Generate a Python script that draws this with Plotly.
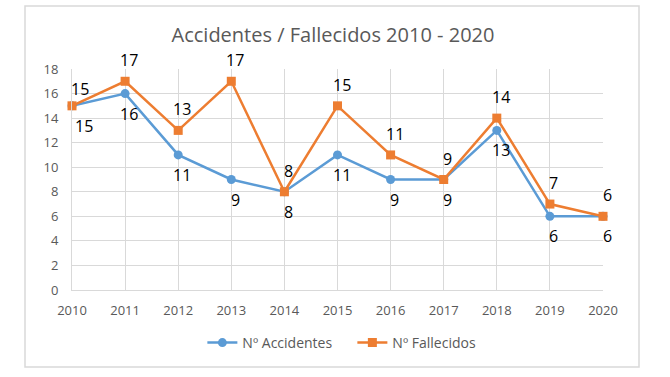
import plotly.graph_objects as go

years = [2010, 2011, 2012, 2013, 2014, 2015, 2016, 2017, 2018, 2019, 2020]
accidentes = [15, 16, 11, 9, 8, 11, 9, 9, 13, 6, 6]
fallecidos = [15, 17, 13, 17, 8, 15, 11, 9, 14, 7, 6]
y_ticks = [0, 2, 4, 6, 8, 10, 12, 14, 16, 18]

FONT = "Open Sans"
W, H = 670, 377
L, R, T, B = 72, 603, 69, 290  # plot area in page pixels

fig = go.Figure()
fig.add_trace(go.Scatter(
    x=years, y=accidentes, name="Nº Accidentes", mode="lines+markers",
    line=dict(color="#5B9BD5", width=2.5),
    marker=dict(symbol="circle", size=9, color="#5B9BD5"), cliponaxis=False))
fig.add_trace(go.Scatter(
    x=years, y=fallecidos, name="Nº Fallecidos", mode="lines+markers",
    line=dict(color="#ED7D31", width=2.5),
    marker=dict(symbol="square", size=9, color="#ED7D31"), cliponaxis=False))

annotations = []
for i, (yr, a, f) in enumerate(zip(years, accidentes, fallecidos)):
    first = i == 0
    annotations.append(dict(x=yr, y=f, text=str(f), showarrow=False,
                            xshift=8 if first else 4, yshift=17 if first else 21,
                            font=dict(family=FONT, size=16, color="#000000")))
    annotations.append(dict(x=yr, y=a, text=str(a), showarrow=False,
                            xshift=12 if first else 4, yshift=-20,
                            font=dict(family=FONT, size=16, color="#000000")))

fig.update_layout(
    width=W, height=H,
    margin=dict(l=L, r=W - R, t=T, b=H - B),
    paper_bgcolor="white", plot_bgcolor="white",
    title=dict(text="Accidentes / Fallecidos 2010 - 2020", x=0.497, xanchor="center",
               y=1 - 35/H, yanchor="middle",
               font=dict(family=FONT, size=20, color="#595959")),
    font=dict(family=FONT, color="#595959"),
    xaxis=dict(range=[2010, 2020], tickvals=years, ticktext=[str(y) for y in years],
               showgrid=True, gridcolor="#D9D9D9", gridwidth=1,
               showline=True, linecolor="#D9D9D9", linewidth=1,
               tickfont=dict(size=13, color="#595959"), zeroline=False,
               ticks="outside", ticklen=8, tickcolor="rgba(0,0,0,0)"),
    yaxis=dict(range=[0, 18], tickvals=y_ticks, showgrid=True, gridcolor="#D9D9D9",
               gridwidth=1, showline=True, linecolor="#D9D9D9", zeroline=False,
               tickfont=dict(size=13, color="#595959"),
               ticks="outside", ticklen=10, tickcolor="rgba(0,0,0,0)"),
    legend=dict(orientation="h", x=0.528, xanchor="center", y=-(343 - B) / (B - T),
                yanchor="middle", font=dict(size=14, color="#595959"),
                itemwidth=30, entrywidth=105, entrywidthmode="pixels"),
    annotations=annotations,
    shapes=[dict(type="rect", xref="paper", yref="paper",
                 x0=-(L - 25) / (R - L), x1=1 + (639 - R) / (R - L),
                 y0=-(367 - B) / (B - T), y1=1 + (T - 6) / (B - T),
                 line=dict(color="#D9D9D9", width=1.5))],
)
fig.write_html("out.html", config={"displayModeBar": False},
               post_script="document.body.style.margin='0px';")
